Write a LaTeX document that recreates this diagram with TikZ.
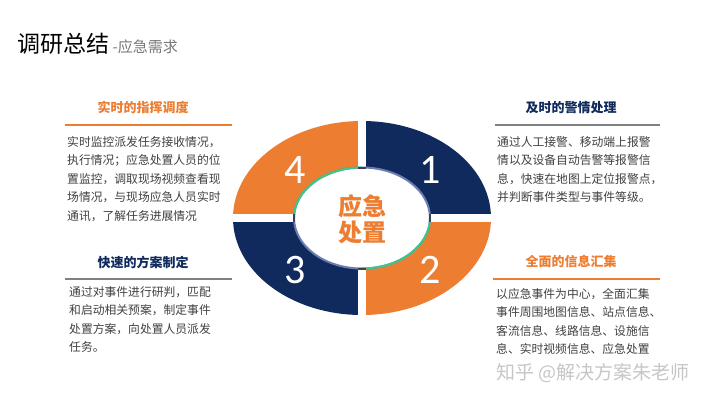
\documentclass[tikz,border=0pt]{standalone}
\usepackage{fontspec}
\usepackage{xcolor}
\newfontfamily\cjk{Noto Sans CJK SC}
\newfontfamily\numfont{Carlito}
\definecolor{navyblue}{RGB}{16,42,94}
\definecolor{brandorange}{RGB}{237,125,49}
\definecolor{textgray}{RGB}{64,64,64}
\definecolor{titlegray}{RGB}{120,120,120}
\definecolor{rulegray}{RGB}{128,128,128}
\definecolor{ringgreen}{RGB}{60,200,140}
\definecolor{ringblue}{RGB}{110,125,175}
\definecolor{ringdark}{RGB}{60,66,80}
\begin{document}
\begin{tikzpicture}[x=1pt,y=-1pt,
  heading/.style={inner sep=0pt,font=\cjk\bfseries\fontsize{13}{15}\selectfont},
  bodytext/.style={anchor=north west,inner sep=0pt,align=left,text=textgray,font=\cjk\fontsize{11.8}{18.5}\selectfont},
  quadnum/.style={text=white,inner sep=0pt,font=\numfont\fontsize{42}{42}\selectfont},
  headrule/.style={line width=2.5pt}]
\useasboundingbox (0,0) rectangle (720,405);
% title
\node[anchor=base west,inner sep=0pt,font=\cjk\fontsize{23}{23}\selectfont] (title) at (17,52) {调研总结};
\node[anchor=base west,inner sep=0pt,text=titlegray,font=\cjk\fontsize{15}{15}\selectfont] (subtitle) at ([xshift=3pt]title.base east) {-应急需求};

% ring
\begin{scope}
\clip (362,218) ellipse [x radius=129, y radius=97];
\fill[navyblue] (362,218) rectangle (500,110);
\fill[brandorange] (362,218) rectangle (500,330);
\fill[navyblue] (362,218) rectangle (220,330);
\fill[brandorange] (362,218) rectangle (220,110);
\end{scope}
\fill[white] (358,110) rectangle (366,330);
\fill[white] (225,214) rectangle (500,222);
\filldraw[fill=white,draw=ringblue,line width=2pt] (362,218) ellipse [x radius=68, y radius=50.5];
\draw[ringgreen,line width=2pt] (294,218) arc[start angle=180,end angle=270,x radius=68,y radius=50.5];
\draw[ringgreen,line width=2pt] (430,218) arc[start angle=0,end angle=90,x radius=68,y radius=50.5];
\foreach \px/\py in {362/167.5,362/268.5}{
\draw[ringdark,line width=2pt] (\px-4,\py)--(\px+4,\py);
}
\foreach \px/\py in {294/218,430/218}{
\draw[ringdark,line width=2pt] (\px,\py-4)--(\px,\py+4);
}
\node[align=center,inner sep=0pt,text=brandorange,font=\cjk\bfseries\fontsize{24}{26}\selectfont] (core) at (362,219) {应急\\处置};
\node[quadnum] (q1) at (430,170) {1};
\node[quadnum] (q2) at (430,270) {2};
\node[quadnum] (q3) at (295,270) {3};
\node[quadnum] (q4) at (295,170) {4};

% top left
\node[heading,text=brandorange] (h4) at (143,107) {实时的指挥调度};
\draw[headrule,brandorange] (65,125)--(232,125);
\node[bodytext] (t4) at (67,136) {实时监控派发任务接收情况，\\执行情况；应急处置人员的位\\置监控，调取现场视频查看现\\场情况，与现场应急人员实时\\通讯，了解任务进展情况};

% top right
\node[heading,text=navyblue] (h1) at (571,108) {及时的警情处理};
\draw[headrule,rulegray] (495,125)--(660,125);
\node[bodytext] (t1) at (497,136) {通过人工接警、移动端上报警\\情以及设备自动告警等报警信\\息，快速在地图上定位报警点，\\并判断事件类型与事件等级。};

% bottom left
\node[heading,text=navyblue] (h3) at (143,262) {快速的方案制定};
\draw[headrule,rulegray] (65,279)--(232,279);
\node[bodytext] (t3) at (69,286) {通过对事件进行研判，匹配\\和启动相关预案，制定事件\\处置方案，向处置人员派发\\任务。};

% bottom right
\node[heading,text=brandorange] (h2) at (571,262) {全面的信息汇集};
\draw[headrule,brandorange] (493,279)--(660,279);
\node[bodytext] (t2) at (496,288) {以应急事件为中心，全面汇集\\事件周围地图信息、站点信息、\\客流信息、线路信息、设施信\\息、实时视频信息、应急处置};

% watermark
\node[inner sep=0pt,text=gray!45,font=\cjk\fontsize{19}{19}\selectfont] (mark) at (593,373) {知乎 @解决方案朱老师};
\end{tikzpicture}
\end{document}
